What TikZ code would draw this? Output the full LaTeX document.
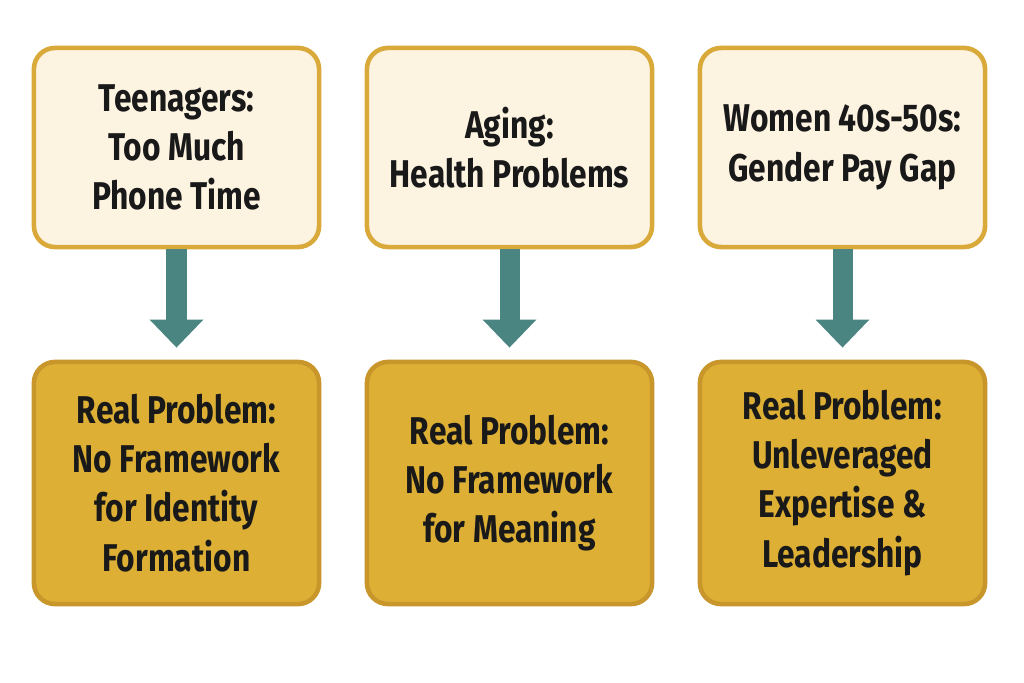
\documentclass[tikz,border=0pt]{standalone}
\usepackage{fontspec}
\setmainfont{Fira Sans}[FakeStretch=0.82]
\usetikzlibrary{arrows.meta}
\definecolor{topfill}{HTML}{FDF3E1}
\definecolor{topdraw}{HTML}{D9A93A}
\definecolor{botfill}{HTML}{DDB035}
\definecolor{botdraw}{HTML}{C8962A}
\definecolor{teal}{HTML}{4A8582}
\begin{document}
\begin{tikzpicture}[x=0.01cm,y=-0.01cm,
  box/.style={rounded corners=6pt,line width=1.3pt,minimum width=2.85cm,align=center,
    font=\fontsize{11pt}{14pt}\selectfont\bfseries,text=black!90},
  top/.style={box,fill=topfill,draw=topdraw,minimum height=1.99cm},
  bot/.style={box,fill=botfill,draw=botdraw,minimum height=2.42cm},
  arr/.style={-{Triangle[width=0.52cm,length=0.28cm]},line width=0.2cm,draw=teal}]
\useasboundingbox[fill=white] (0,0) rectangle (1024,683);
\node[top] (t1) at (176.5,147.5) {Teenagers:\\Too Much\\Phone Time};
\node[top] (t2) at (509.5,147.5) {Aging:\\Health Problems};
\node[top] (t3) at (842.5,147.5) {Women 40s-50s:\\Gender Pay Gap};
\node[bot] (b1) at (176.5,483) {Real Problem:\\No Framework\\for Identity\\Formation};
\node[bot] (b2) at (509.5,483) {Real Problem:\\No Framework\\for Meaning};
\node[bot] (b3) at (842.5,483) {Real Problem:\\Unleveraged\\Expertise \&\\Leadership};
\foreach \i in {1,2,3}{\draw[arr] (t\i.south) -- ([yshift=0.12cm]b\i.north);}
\end{tikzpicture}
\end{document}
